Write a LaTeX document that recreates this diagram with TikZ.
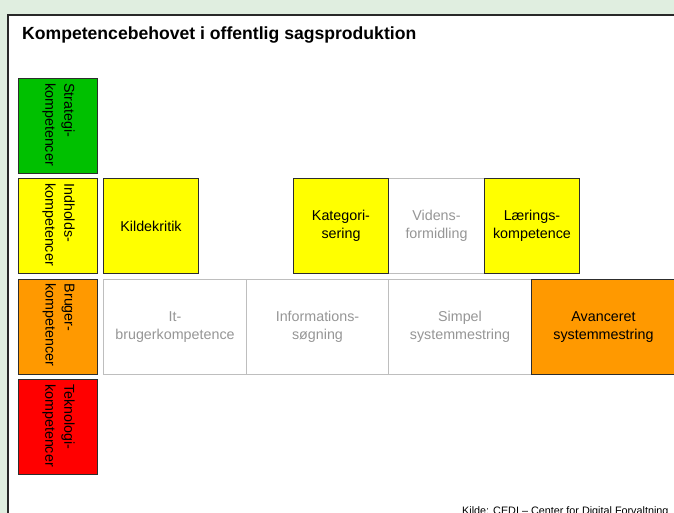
\documentclass[tikz,border=0pt]{standalone}
\usepackage{fontspec}
\setmainfont{Liberation Sans}
\definecolor{pagebg}{RGB}{224,238,224}
\definecolor{panelline}{RGB}{40,40,40}
\definecolor{darkline}{RGB}{45,45,45}
\definecolor{paleline}{RGB}{190,190,190}
\definecolor{paletext}{RGB}{150,150,150}
\definecolor{strgreen}{RGB}{0,192,0}
\definecolor{contyellow}{RGB}{255,255,0}
\definecolor{userorange}{RGB}{255,153,0}
\definecolor{techred}{RGB}{255,0,0}
\begin{document}
\begin{tikzpicture}[x=1pt,y=-1pt,
  bodyfont/.style={font=\fontsize{14.3}{18}\selectfont},
  cellbox/.style={draw=darkline, line width=1pt, anchor=north west,
    minimum height=95pt, inner sep=0pt, align=center, bodyfont},
  palebox/.style={cellbox, draw=paleline, text=paletext, fill=white},
  rowhead/.style={draw=darkline, line width=1pt, anchor=north west,
    minimum width=79pt, minimum height=95pt, inner sep=0pt},
  headtext/.style={rotate=-90, anchor=west, inner sep=0pt, align=left,
    font=\fontsize{14.3}{19}\selectfont}]
  \useasboundingbox (0,0) rectangle (674,513);
  \fill[pagebg] (0,0) rectangle (674,513);
  % white panel with dark left/top edge
  \fill[white] (8,15) rectangle (690,530);
  \draw[panelline, line width=1.6pt] (8,530) -- (8,15) -- (690,15);

  \node[anchor=west, inner sep=0pt, font=\fontsize{17.6}{20}\selectfont\bfseries]
    (title) at (22,35) {Kompetencebehovet i offentlig sagsproduktion};

  % row headings
  \node[rowhead, fill=strgreen] (strat) at (18,78) {};
  \node[headtext] (strattxt) at ([xshift=0.5pt, yshift=-5pt]strat.north) {Strategi-\\kompetencer};
  \node[rowhead, fill=contyellow] (indh) at (18,178) {};
  \node[headtext] (indhtxt) at ([xshift=0.5pt, yshift=-5pt]indh.north) {Indholds-\\kompetencer};
  \node[rowhead, fill=userorange] (brug) at (18,278.5) {};
  \node[headtext] (brugtxt) at ([xshift=0.5pt, yshift=-5pt]brug.north) {Bruger-\\kompetencer};
  \node[rowhead, fill=techred] (tekn) at (18,379) {};
  \node[headtext] (tekntxt) at ([xshift=0.5pt, yshift=-5pt]tekn.north) {Teknologi-\\kompetencer};

  % content competences
  \node[palebox, minimum width=96pt] (viden) at (388,178) {Videns-\\formidling};
  \node[cellbox, fill=contyellow, minimum width=95pt] (kilde) at (103,178) {Kildekritik};
  \node[cellbox, fill=contyellow, minimum width=95pt] (kateg) at (293,178) {Kategori-\\sering};
  \node[cellbox, fill=contyellow, minimum width=95pt] (laer) at (484,178) {Lærings-\\kompetence};

  % user competences
  \node[palebox, minimum width=143pt, minimum height=95.5pt] (itbrug) at (103,278.5) {It-\\brugerkompetence};
  \node[palebox, minimum width=142pt, minimum height=95.5pt] (infos) at (246,278.5) {Informations-\\søgning};
  \node[palebox, minimum width=143pt, minimum height=95.5pt] (simpel) at (388,278.5) {Simpel\\systemmestring};
  \node[cellbox, fill=userorange, minimum width=144pt, minimum height=95.5pt] (avanc) at (531,278.5) {Avanceret\\systemmestring};

  \node[anchor=base west, inner sep=0pt, font=\fontsize{10.8}{12}\selectfont]
    (kilde-src) at (462,514) {Kilde: CEDI – Center for Digital Forvaltning};
\end{tikzpicture}
\end{document}
